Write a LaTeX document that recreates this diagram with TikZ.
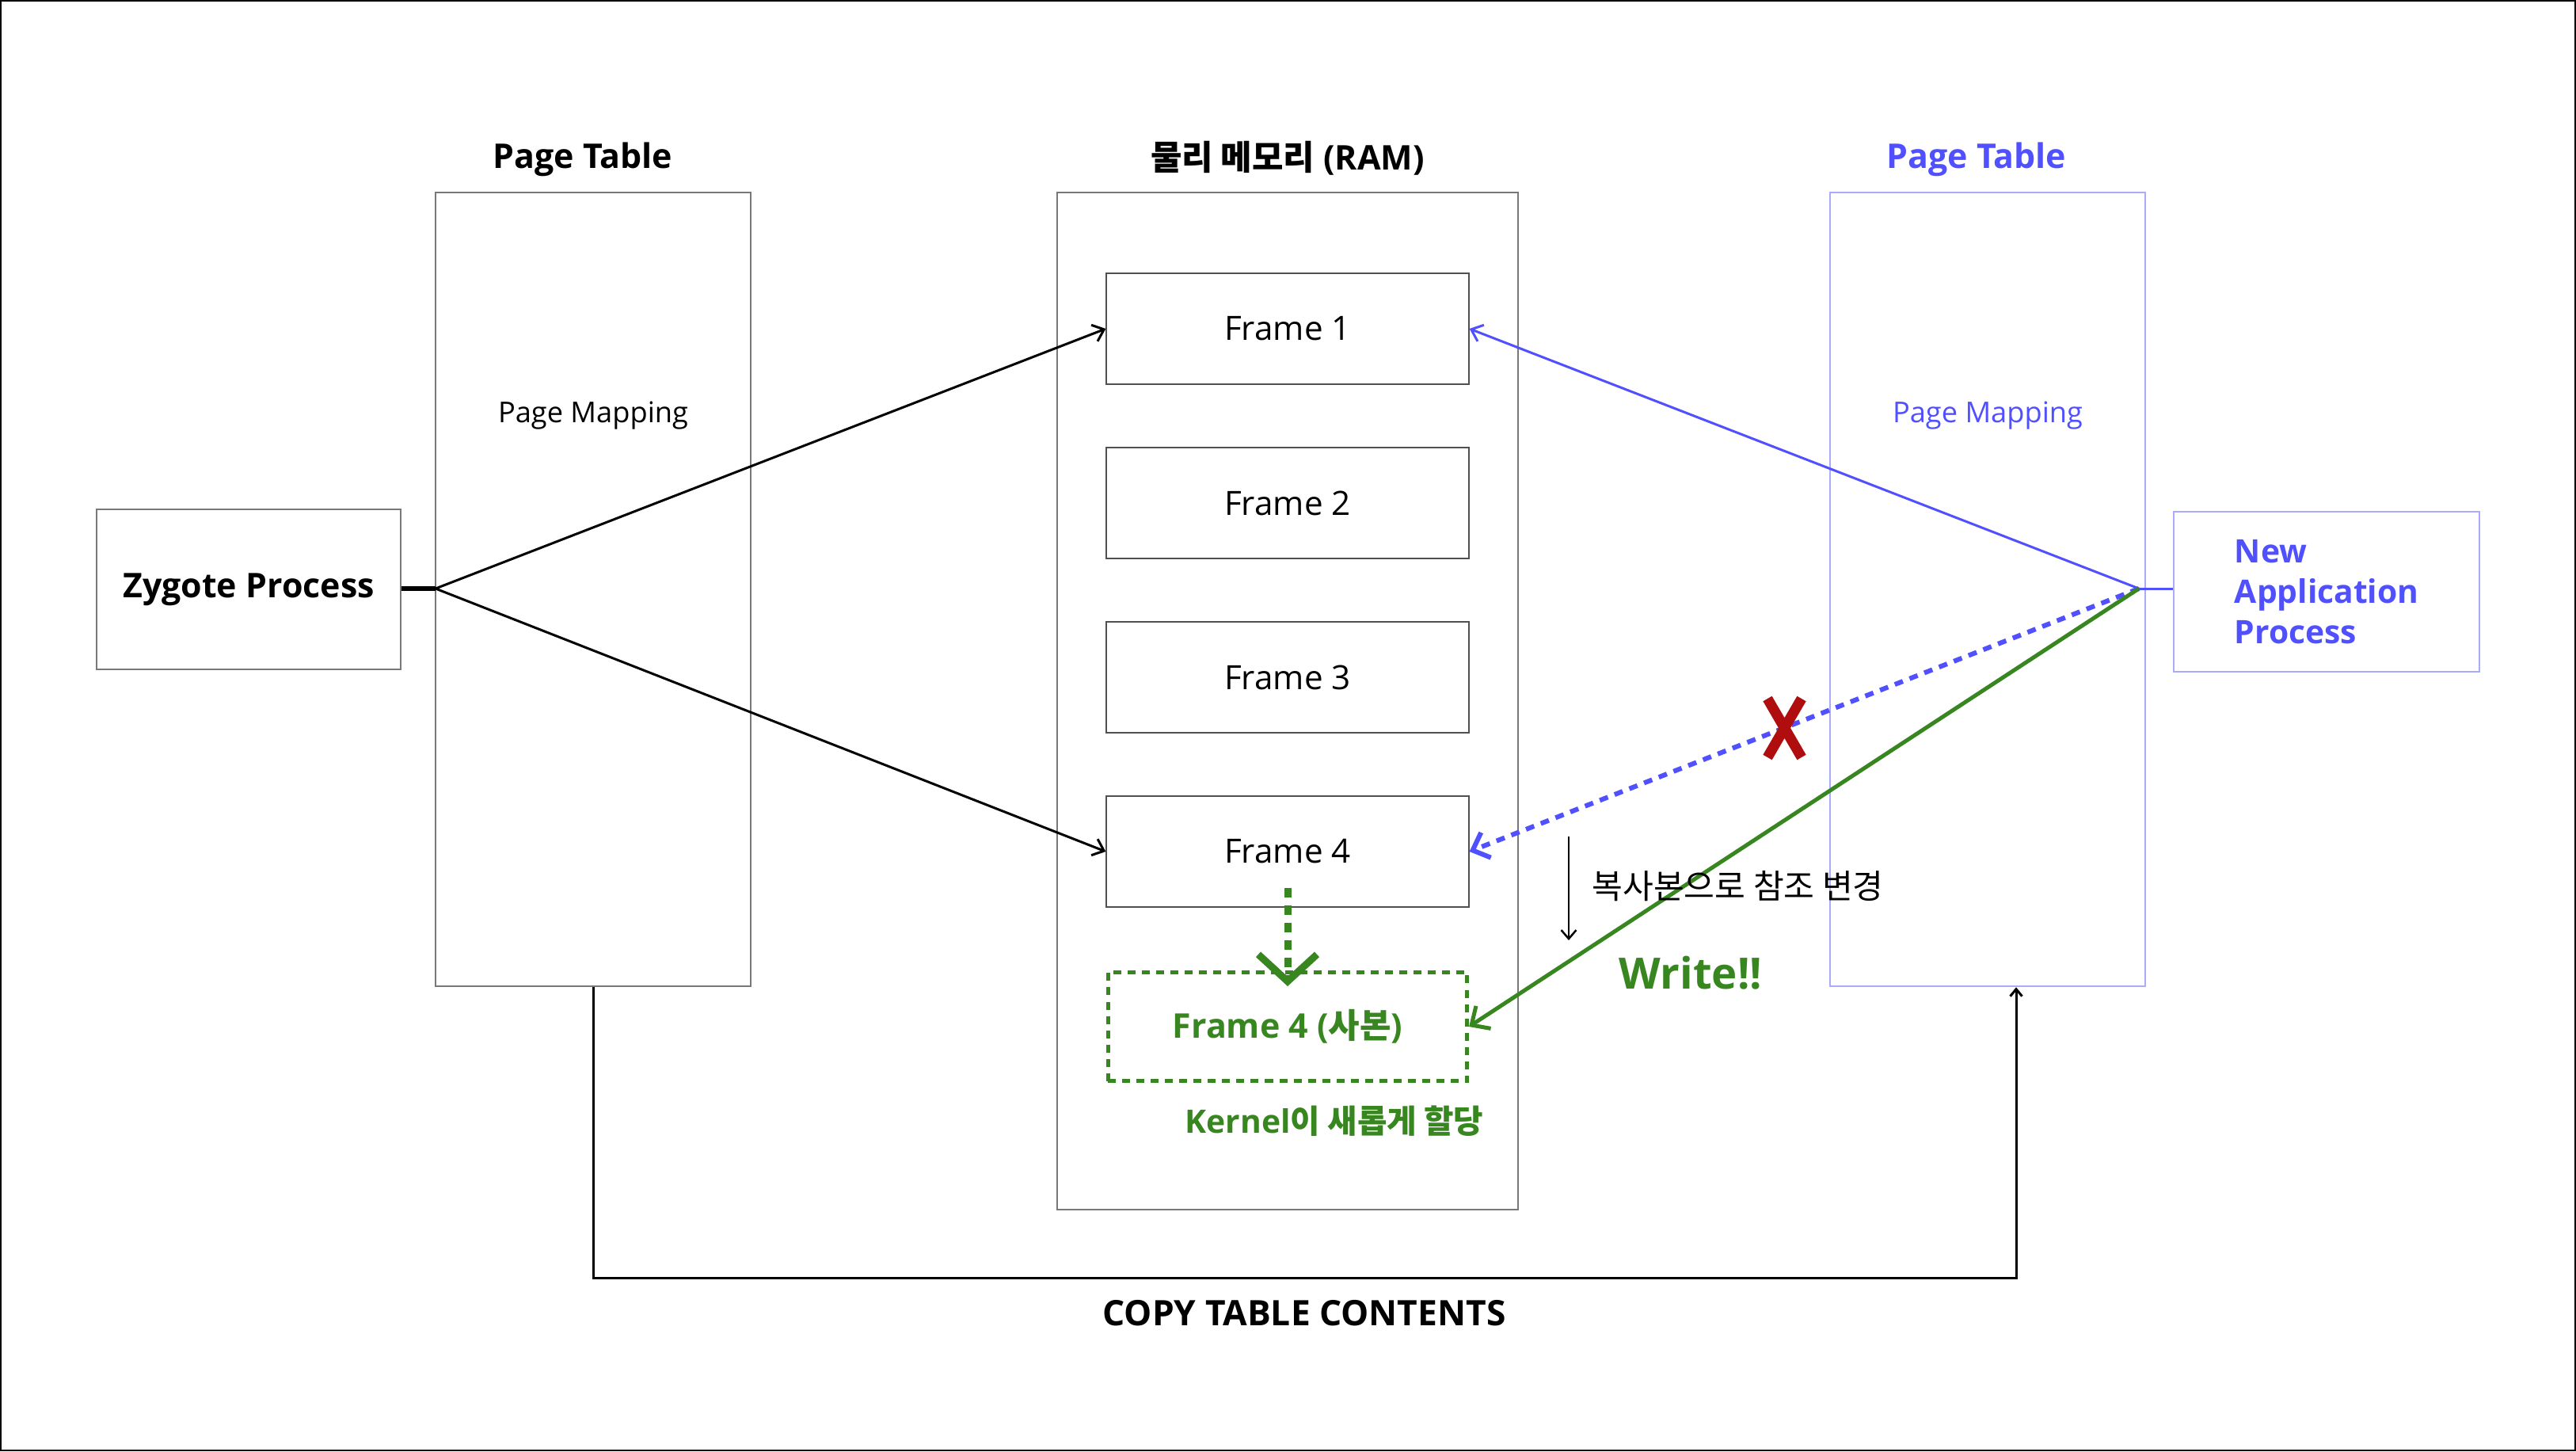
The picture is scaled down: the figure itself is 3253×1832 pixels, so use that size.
\documentclass[tikz,border=0pt]{standalone}
\usepackage{fontspec}
\setmainfont{Open Sans}
\newfontfamily\kr{Noto Sans CJK KR}
\usetikzlibrary{arrows.meta,calc}
\definecolor{PageBlue}{RGB}{80,80,255}
\definecolor{PageBlueLt}{RGB}{170,170,255}
\definecolor{CopyGreen}{RGB}{56,134,32}
\definecolor{CrossRed}{RGB}{176,14,14}
\definecolor{BoxGray}{RGB}{120,120,120}
\definecolor{FrameGray}{RGB}{80,80,80}

\begin{document}
\begin{tikzpicture}[x=0.01cm,y=-0.01cm,
  title/.style={font=\bfseries\fontsize{12.2}{14}\selectfont},
  mapping/.style={font=\fontsize{10.3}{12}\selectfont},
  tablebox/.style={draw=BoxGray,line width=0.2mm,minimum width=3.98cm,minimum height=10.02cm},
  framebox/.style={draw=FrameGray,line width=0.2mm,minimum width=4.57cm,minimum height=1.39cm,font=\fontsize{12}{14}\selectfont},
  arr/.style={line width=0.3mm,-{Straight Barb[length=1.3mm,width=2.2mm]}}]

\useasboundingbox (0,0) rectangle (3253,1832);
\draw[line width=0.15mm] (1,1) rectangle (3252,1831);

% zygote side
\node[draw=BoxGray,line width=0.2mm,minimum width=3.84cm,minimum height=2.01cm,title] (zygote) at (314,744) {Zygote Process};
\node[tablebox] (ptL) at (749,744) {};
\node[title] (ptLtitle) at (736,201) {Page Table};
\node[mapping] (mapL) at (749,525) {Page Mapping};
\coordinate (jL) at (550,743);

% physical memory
\node[draw=BoxGray,line width=0.2mm,minimum width=5.81cm,minimum height=12.84cm] (ram) at (1626,885) {};
\node[title] (ramtitle) at (1626,200) {{\kr 물리 메모리} (RAM)};
\foreach \i in {1,...,4}
  \node[framebox] (f\i) at (1626,{195+220*\i}) {Frame \i};
\node[draw=CopyGreen,line width=0.5mm,dash pattern=on 1mm off 0.8mm,minimum width=4.53cm,minimum height=1.37cm,
  text=CopyGreen,font=\bfseries\fontsize{12.2}{14}\selectfont] (f4c) at (1626,1296) {Frame 4 ({\kr 사본})};
\node[text=CopyGreen,font=\bfseries\fontsize{11.6}{14}\selectfont] (kernel) at (1685,1415) {Kernel{\kr 이 새롭게 할당}};

% new application side
\node[tablebox,draw=PageBlueLt] (ptR) at (2510,744) {};
\node[title,text=PageBlue] (ptRtitle) at (2496,201) {Page Table};
\node[mapping,text=PageBlue] (mapR) at (2510,525) {Page Mapping};
\node[draw=PageBlueLt,line width=0.2mm,minimum width=3.86cm,minimum height=2.01cm,text width=2.32cm,
  inner xsep=0.77cm,align=left,text=PageBlue,font=\bfseries\fontsize{11.6}{14.5}\selectfont] (app) at (2938,747)
  {New\\Application\\Process};
\coordinate (jR) at (2701,743);

% connectors
\draw[line width=0.6mm] (jL -| zygote.east) -- (jL);
\draw[arr] (jL) -- (f1.west);
\draw[arr] (jL) -- (f4.west);
\draw[PageBlue,line width=0.3mm] (jR -| app.west) -- (jR);
\draw[arr,PageBlue] (jR) -- (f1.east);
\draw[PageBlue,line width=0.6mm,dash pattern=on 1.1mm off 0.9mm,-{Straight Barb[length=1.8mm,width=3.4mm]}] (jR) -- (f4.east);
\draw[CopyGreen,line width=0.5mm,-{Straight Barb[length=1.8mm,width=3.4mm]}] (jR) -- (f4c.east);
\draw[CopyGreen,line width=0.9mm,dash pattern=on 1.2mm off 1mm,-{Straight Barb[length=3.4mm,width=7.4mm]}]
  ([yshift=0.25cm]f4.south) -- ([yshift=-0.2cm]f4c.north);

% red cross over the old reference
\draw[CrossRed,line width=1.3mm] (2232,882) -- (2275,956) (2275,882) -- (2232,956);

% reference change note
\coordinate (noteTop) at (1981,1056);
\coordinate (noteBot) at (1981,1187);
\draw[line width=0.25mm,-{Straight Barb[length=1.1mm,width=1.9mm]}] (noteTop) -- (noteBot);
\node[anchor=west,font=\kr\fontsize{12}{14}\selectfont] (note) at (1998,1119) {복사본으로 참조 변경};
\node[text=CopyGreen,font=\bfseries\fontsize{15.5}{18}\selectfont] (write) at (2135,1228) {Write!!};

% table copy
\draw[line width=0.3mm,-{Straight Barb[length=0.9mm,width=1.5mm]}] (ptL.south) -- ++(0,367) -| ([xshift=0.36cm]ptR.south);
\node[font=\bfseries\fontsize{12.6}{14}\selectfont] (copy) at (1647,1658) {COPY TABLE CONTENTS};

\end{tikzpicture}
\end{document}
